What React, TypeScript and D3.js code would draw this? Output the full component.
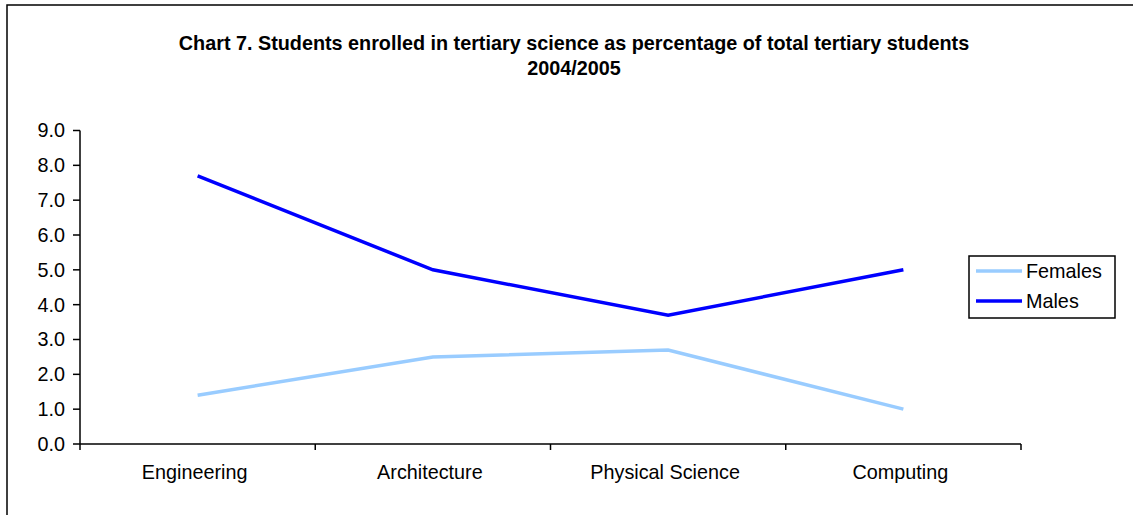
import React from 'react';
import * as d3 from 'd3';

const categories = ['Engineering', 'Architecture', 'Physical Science', 'Computing'];
const females = [1.4, 2.5, 2.7, 1.0];
const males = [7.7, 5.0, 3.7, 5.0];
const yTicks = [0, 1, 2, 3, 4, 5, 6, 7, 8, 9];

const series = [
  { name: 'Females', values: females, color: '#99CCFF' },
  { name: 'Males', values: males, color: '#0000FF' },
];

const W = 1133;
const H = 515;
const left = 80;
const right = 1021;
const top = 130.5;
const bottom = 444;
const font = "Arial, 'Liberation Sans', sans-serif";
const fs = 19.8;

export default function App() {
  const x = d3.scaleBand<string>().domain(categories).range([left, right]).paddingInner(0).paddingOuter(0);
  const y = d3.scaleLinear().domain([0, 9]).range([bottom, top]);

  const line = d3
    .line<number>()
    .x((_, i) => (x(categories[i]) as number) + x.bandwidth() / 2)
    .y((d) => y(d));

  // tick boundaries between categories
  const xTicks = categories.map((c) => x(c) as number).concat([right]);

  return (
    <svg
      width={W}
      height={H}
      style={{ position: 'absolute', left: 0, top: 0, background: '#fff' }}
      fontFamily={font}
    >
      {/* outer chart frame, runs off the picture at right and bottom */}
      <rect x={7} y={5} width={W + 20} height={H + 20} fill="#fff" stroke="#000" strokeWidth={1.5} />

      <text x={574} y={50} textAnchor="middle" fontSize={fs} fontWeight="bold">
        Chart 7. Students enrolled in tertiary science as percentage of total tertiary students
      </text>
      <text x={574} y={75} textAnchor="middle" fontSize={fs} fontWeight="bold">
        2004/2005
      </text>

      {/* y axis */}
      <line x1={left} x2={left} y1={top} y2={bottom} stroke="#000" strokeWidth={1.5} />
      {yTicks.map((t) => (
        <g key={t}>
          <line x1={left - 7} x2={left} y1={y(t)} y2={y(t)} stroke="#000" strokeWidth={1.5} />
          <text x={65} y={y(t)} dy="0.35em" textAnchor="end" fontSize={fs}>
            {t.toFixed(1)}
          </text>
        </g>
      ))}

      {/* x axis */}
      <line x1={left} x2={right} y1={bottom} y2={bottom} stroke="#000" strokeWidth={1.5} />
      {xTicks.map((t, i) => (
        <line key={i} x1={t} x2={t} y1={bottom} y2={bottom + 6} stroke="#000" strokeWidth={1.5} />
      ))}
      {categories.map((c) => (
        <text key={c} x={(x(c) as number) + x.bandwidth() / 2 - 3} y={479} textAnchor="middle" fontSize={fs}>
          {c}
        </text>
      ))}

      {series.map((s) => (
        <path key={s.name} d={line(s.values) || ''} fill="none" stroke={s.color} strokeWidth={3.5} />
      ))}

      {/* legend */}
      <rect x={969} y={256} width={146} height={62} fill="#fff" stroke="#000" strokeWidth={1.5} />
      {series.map((s, i) => (
        <g key={s.name} transform={`translate(0, ${271 + i * 30})`}>
          <line x1={976} x2={1022} y1={0} y2={0} stroke={s.color} strokeWidth={3.5} />
          <text x={1026} y={0} dy="0.35em" fontSize={fs}>
            {s.name}
          </text>
        </g>
      ))}
    </svg>
  );
}
